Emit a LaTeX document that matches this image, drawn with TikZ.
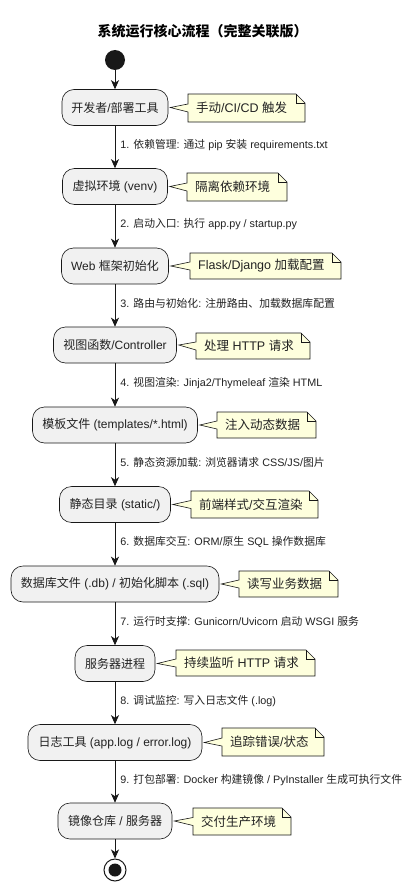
\documentclass[tikz,border=0pt]{standalone}
\usepackage{fontspec}
\setmainfont{Liberation Sans}
\newfontfamily\cjkfam{Noto Sans CJK SC}
\usetikzlibrary{arrows.meta}
\XeTeXinterchartokenstate=1
\newXeTeXintercharclass\CJKcls
\count255="4E00
\loop\XeTeXcharclass\count255=\CJKcls\ifnum\count255<"9FFF\advance\count255 by 1\repeat
\count255="3000
\loop\XeTeXcharclass\count255=\CJKcls\ifnum\count255<"303F\advance\count255 by 1\repeat
\count255="FF00
\loop\XeTeXcharclass\count255=\CJKcls\ifnum\count255<"FFEF\advance\count255 by 1\repeat
\XeTeXinterchartoks 0 \CJKcls = {\cjkfam}
\XeTeXinterchartoks 4095 \CJKcls = {\cjkfam}
\XeTeXinterchartoks \CJKcls 0 = {\rmfamily}
\XeTeXinterchartoks \CJKcls 4095 = {\rmfamily}
\definecolor{boxfill}{HTML}{F1F1F1}
\definecolor{notefill}{HTML}{FEFFDD}
\definecolor{lineclr}{HTML}{181818}
\definecolor{txtclr}{HTML}{222222}
\newcommand\mknote[7]{%
  \pgfmathsetmacro\ncy{(#4+#6)/2}%
  \path[notebody] (#3,#4) -- (#5-9,#4) -- (#5,#4+9) -- (#5,#6) -- (#3,#6) -- (#3,\ncy+4) -- ([xshift=2pt]#1.east) -- (#3,\ncy-4) -- cycle;
  \draw[notebody,fill=none] (#5-9,#4) -- (#5-9,#4+9) -- (#5,#4+9);
  \node[notetext] (#2) at (#3+8,\ncy) {#7};
}
\begin{document}
\begin{tikzpicture}[x=1pt,y=-1pt,
  action/.style={draw=lineclr, fill=boxfill, rounded corners=12pt, minimum height=36pt, line width=0.6pt, inner sep=0pt, text=txtclr, font=\fontsize{12}{15}\selectfont},
  lbl/.style={anchor=west, inner sep=0pt, font=\fontsize{10.8}{13}\selectfont, text=txtclr},
  flow/.style={draw=lineclr, line width=0.9pt, -{Stealth[length=9pt,width=8pt,inset=2.5pt]}},
  notebody/.style={draw=lineclr, fill=notefill, line width=0.6pt},
  notetext/.style={anchor=west, inner sep=0pt, font=\fontsize{12.5}{15}\selectfont, text=txtclr},
  titlestyle/.style={font=\bfseries\fontsize{14}{17}\selectfont, inner sep=0pt}
]
\useasboundingbox (0,0) rectangle (414,891);
\fill[white] (0,0) rectangle (414,891);
\node[titlestyle] (title) at (202.5,31) {系统运行核心流程（完整关联版）};
\node[circle, fill=lineclr, minimum size=20pt, inner sep=0pt] (start) at (115,60) {};
\node[action, minimum width=106pt] (a1) at (115,107.5) {开发者/部署工具};
\node[action, minimum width=105pt] (a2) at (115,186.5) {虚拟环境 (venv)};
\node[action, minimum width=107pt] (a3) at (115,266) {Web 框架初始化};
\node[action, minimum width=123pt] (a4) at (115,345) {视图函数/Controller};
\node[action, minimum width=165pt] (a5) at (115,425) {模板文件 (templates/*.html)};
\node[action, minimum width=111pt] (a6) at (115,504.5) {静态目录 (static/)};
\node[action, minimum width=208pt] (a7) at (115,584) {数据库文件 (.db) / 初始化脚本 (.sql)};
\node[action, minimum width=80pt] (a8) at (115,663.5) {服务器进程};
\node[action, minimum width=174pt] (a9) at (115,742.5) {日志工具 (app.log / error.log)};
\node[action, minimum width=114pt] (a10) at (115,821) {镜像仓库 / 服务器};
\node[circle, draw=lineclr, line width=1pt, fill=white, minimum size=22pt, inner sep=0pt] (end) at (115,870) {};
\node[circle, fill=lineclr, minimum size=13pt, inner sep=0pt] (endin) at (end.center) {};
\draw[flow] (start) -- (a1);
\draw[flow] (a1) -- node[lbl, pos=0.45, xshift=5pt] (l1) {1. 依赖管理: 通过 pip 安装 requirements.txt} (a2);
\draw[flow] (a2) -- node[lbl, pos=0.45, xshift=5pt] (l2) {2. 启动入口: 执行 app.py / startup.py} (a3);
\draw[flow] (a3) -- node[lbl, pos=0.45, xshift=5pt] (l3) {3. 路由与初始化: 注册路由、加载数据库配置} (a4);
\draw[flow] (a4) -- node[lbl, pos=0.45, xshift=5pt] (l4) {4. 视图渲染: Jinja2/Thymeleaf 渲染 HTML} (a5);
\draw[flow] (a5) -- node[lbl, pos=0.45, xshift=5pt] (l5) {5. 静态资源加载: 浏览器请求 CSS/JS/图片} (a6);
\draw[flow] (a6) -- node[lbl, pos=0.45, xshift=5pt] (l6) {6. 数据库交互: ORM/原生 SQL 操作数据库} (a7);
\draw[flow] (a7) -- node[lbl, pos=0.45, xshift=5pt] (l7) {7. 运行时支撑: Gunicorn/Uvicorn 启动 WSGI 服务} (a8);
\draw[flow] (a8) -- node[lbl, pos=0.45, xshift=5pt] (l8) {8. 调试监控: 写入日志文件 (.log)} (a9);
\draw[flow] (a9) -- node[lbl, pos=0.45, xshift=5pt] (l9) {9. 打包部署: Docker 构建镜像 / PyInstaller 生成可执行文件} (a10);
\draw[flow] (a10) -- (end);
\mknote{a1}{n1}{188}{94}{305}{122}{手动/CI/CD 触发}
\mknote{a2}{n2}{187}{173}{287}{201}{隔离依赖环境}
\mknote{a3}{n3}{190}{253}{341}{279}{Flask/Django 加载配置}
\mknote{a4}{n4}{196}{333}{310}{359}{处理 HTTP 请求}
\mknote{a5}{n5}{217}{412}{316}{438}{注入动态数据}
\mknote{a6}{n6}{191}{491}{318}{518}{前端样式/交互渲染}
\mknote{a7}{n7}{239}{571}{338}{597}{读写业务数据}
\mknote{a8}{n8}{176}{650}{315}{676}{持续监听 HTTP 请求}
\mknote{a9}{n9}{222}{728}{324}{756}{追踪错误/状态}
\mknote{a10}{n10}{193}{808}{291}{835}{交付生产环境}
\end{tikzpicture}
\end{document}
